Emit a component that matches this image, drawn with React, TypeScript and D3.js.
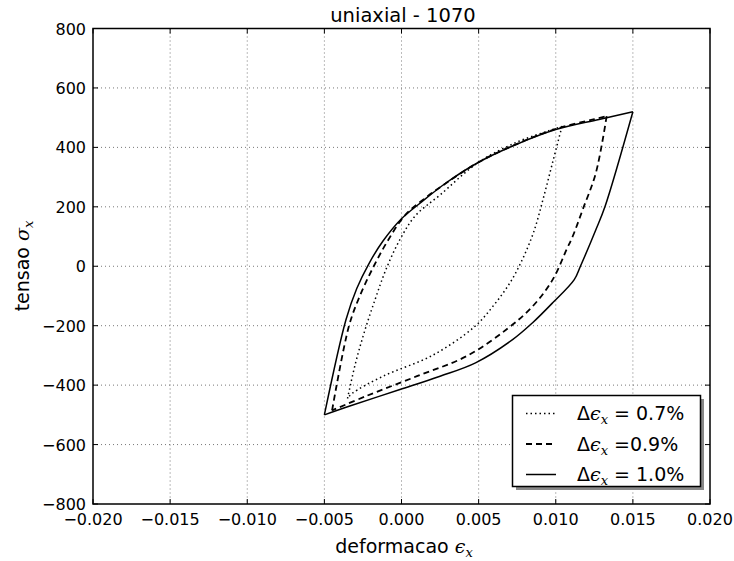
import React from "react";
import * as d3 from "d3";

const strainTicks = [-0.02, -0.015, -0.01, -0.005, 0, 0.005, 0.01, 0.015, 0.02];
const stressTicks = [-800, -600, -400, -200, 0, 200, 400, 600, 800];

// Δε = 1.0% (solid)
const solidLoadStrain = [-0.005, -0.0036, -0.0029, -0.0021, -0.0012, 0.0, 0.0012, 0.0029, 0.005, 0.0074, 0.01, 0.0128, 0.015];
const solidLoadStress = [-500, -180, -75, 10, 85, 160, 212, 281, 350, 409, 460, 494, 520];
const solidUnloadStrain = [0.015, 0.0132, 0.0126, 0.0116, 0.0112, 0.0098, 0.0085, 0.0072, 0.0048, 0.0025, -0.0001, -0.0034, -0.005];
const solidUnloadStress = [520, 202, 123, 0, -45, -123, -190, -247, -325, -370, -415, -471, -500];

// Δε = 0.9% (dashed)
const dashLoadStrain = [-0.0045, -0.0034, -0.0027, -0.0018, -0.0009, 0.0002, 0.0015, 0.0029, 0.005, 0.0075, 0.01, 0.0125, 0.0133];
const dashLoadStress = [-485, -200, -100, 0, 85, 170, 228, 280, 350, 412, 462, 495, 505];
const dashUnloadStrain = [0.0133, 0.0126, 0.01175, 0.0111, 0.0107, 0.0098, 0.0085, 0.0068, 0.0042, 0.001, -0.0023, -0.0045];
const dashUnloadStress = [505, 314, 191, 101, 56, -45, -135, -213, -303, -370, -437, -485];

// Δε = 0.7% (dotted)
const dotLoadStrain = [-0.0035, -0.003, -0.0024, -0.0017, -0.001, -0.0001, 0.0009, 0.0025, 0.005, 0.0075, 0.0095, 0.0104];
const dotLoadStress = [-445, -330, -220, -110, -10, 90, 170, 240, 350, 418, 455, 470];
const dotUnloadStrain = [0.0104, 0.0098, 0.0092, 0.0086, 0.0079, 0.0071, 0.006, 0.0047, 0.002, -0.0012, -0.0032, -0.0035];
const dotUnloadStress = [470, 350, 230, 120, 30, -50, -130, -205, -300, -370, -428, -445];

const seriesNames = ["0.7%", "0.9%", "1.0%"];

const W = 734, H = 561;
const L = 93, R = 710, T = 28.5, B = 504;

const x = d3.scaleLinear().domain([-0.02, 0.02]).range([L, R]);
const y = d3.scaleLinear().domain([-800, 800]).range([B, T]);

const line = d3
  .line<[number, number]>()
  .x((d) => x(d[0]))
  .y((d) => y(d[1]))
  .curve(d3.curveCatmullRom.alpha(0.5));

const zip = (a: number[], b: number[]) => a.map((v, i) => [v, b[i]] as [number, number]);

const fmtX = (v: number) => (v < 0 ? "\u2212" : "") + Math.abs(v).toFixed(3);
const fmtY = (v: number) => (v < 0 ? "\u2212" : "") + Math.abs(v).toString();

const FONT = "DejaVu Sans, sans-serif";
const MATH = "DejaVu Serif, Liberation Serif, serif";

const series = [
  { dash: "1.5,3", width: 1.5, load: zip(dotLoadStrain, dotLoadStress), unload: zip(dotUnloadStrain, dotUnloadStress), label: " = " + seriesNames[0] },
  { dash: "6,4", width: 1.8, load: zip(dashLoadStrain, dashLoadStress), unload: zip(dashUnloadStrain, dashUnloadStress), label: " =" + seriesNames[1] },
  { dash: "none", width: 1.5, load: zip(solidLoadStrain, solidLoadStress), unload: zip(solidUnloadStrain, solidUnloadStress), label: " = " + seriesNames[2] },
];

export default function App() {
  const legX = 512.5, legY = 395.5, legW = 188, legH = 91;
  return (
    <svg width={W} height={H} style={{ position: "absolute", left: 0, top: 0, background: "#fff" }} fontFamily={FONT}>
      <rect x={0} y={0} width={W} height={H} fill="#fff" />
      {/* grid */}
      <g stroke="#555" strokeWidth={0.8} strokeDasharray="1,3">
        {strainTicks.slice(1, -1).map((t) => (
          <line key={"gx" + t} x1={x(t)} x2={x(t)} y1={T} y2={B} />
        ))}
        {stressTicks.slice(1, -1).map((t) => (
          <line key={"gy" + t} x1={L} x2={R} y1={y(t)} y2={y(t)} />
        ))}
      </g>
      {/* ticks */}
      <g stroke="#000" strokeWidth={1}>
        {strainTicks.map((t) => (
          <g key={"tx" + t}>
            <line x1={x(t)} x2={x(t)} y1={B} y2={B - 5} />
            <line x1={x(t)} x2={x(t)} y1={T} y2={T + 5} />
          </g>
        ))}
        {stressTicks.map((t) => (
          <g key={"ty" + t}>
            <line x1={L} x2={L + 5} y1={y(t)} y2={y(t)} />
            <line x1={R} x2={R - 5} y1={y(t)} y2={y(t)} />
          </g>
        ))}
      </g>
      {/* curves */}
      <g fill="none" stroke="#000" strokeLinejoin="round">
        {series.map((s, i) => (
          <g key={"s" + i} strokeDasharray={s.dash} strokeWidth={s.width}>
            <path d={line(s.load) || ""} />
            <path d={line(s.unload) || ""} />
          </g>
        ))}
      </g>
      {/* frame */}
      <rect x={L} y={T} width={R - L} height={B - T} fill="none" stroke="#000" strokeWidth={1.5} />
      {/* tick labels */}
      <g fontSize={16} fill="#000">
        {strainTicks.map((t) => (
          <text key={"lx" + t} x={x(t)} y={525} textAnchor="middle">
            {fmtX(t)}
          </text>
        ))}
        {stressTicks.map((t) => (
          <text key={"ly" + t} x={86} y={y(t) + 6} textAnchor="end">
            {fmtY(t)}
          </text>
        ))}
      </g>
      {/* title */}
      <text x={403} y={22} textAnchor="middle" fontSize={19.5}>
        uniaxial - 1070
      </text>
      {/* axis labels */}
      <text x={404} y={553} textAnchor="middle" fontSize={19}>
        deformacao{" "}
        <tspan fontFamily={MATH} fontStyle="italic">ϵ</tspan>
        <tspan fontFamily={MATH} fontStyle="italic" fontSize={13} dy={4}>x</tspan>
      </text>
      <text transform="translate(29,266) rotate(-90)" textAnchor="middle" fontSize={19}>
        tensao{" "}
        <tspan fontFamily={MATH} fontStyle="italic">σ</tspan>
        <tspan fontFamily={MATH} fontStyle="italic" fontSize={13} dy={4}>x</tspan>
      </text>
      {/* legend */}
      <rect x={legX + 3.5} y={legY + 3.5} width={legW} height={legH} fill="#888" />
      <rect x={legX} y={legY} width={legW} height={legH} fill="#fff" stroke="#000" strokeWidth={1.5} />
      {series.map((s, i) => {
        const ry = legY + 18 + i * 30.5;
        return (
          <g key={"lg" + i}>
            <line x1={526} x2={556} y1={ry} y2={ry} stroke="#000" strokeWidth={s.width} strokeDasharray={s.dash} />
            <text x={577} y={ry + 6.5} fontSize={19}>
              Δ
              <tspan fontFamily={MATH} fontStyle="italic">ϵ</tspan>
              <tspan fontFamily={MATH} fontStyle="italic" fontSize={13} dy={4}>x</tspan>
              <tspan dy={-4}>{s.label}</tspan>
            </text>
          </g>
        );
      })}
    </svg>
  );
}
